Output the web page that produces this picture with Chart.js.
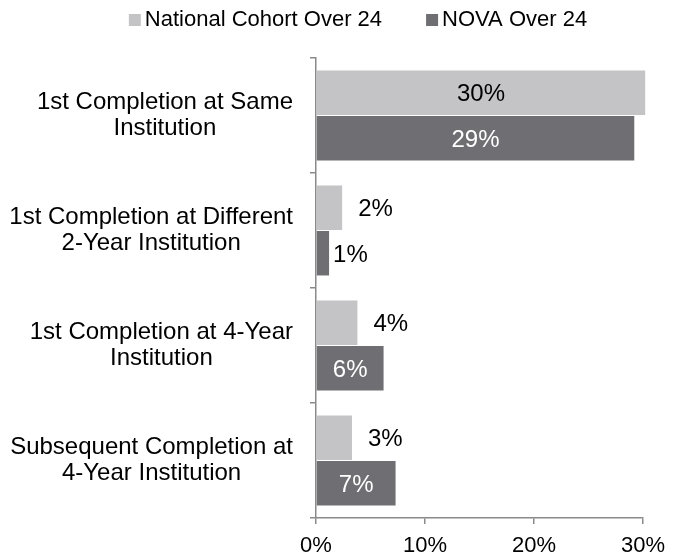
<!DOCTYPE html>
<html>
<head>
<meta charset="utf-8">
<script src="https://cdn.jsdelivr.net/npm/chart.js@4/dist/chart.umd.min.js"></script>
<style>
html,body{margin:0;padding:0;background:#fff;}
#wrap{width:682px;height:556px;}
</style>
</head>
<body>
<div id="wrap"><canvas id="c" width="682" height="556"></canvas></div>
<script>
const categories = [
  ["1st Completion at Same", "Institution"],
  ["1st Completion at Different", "2-Year Institution"],
  ["1st Completion at 4-Year", "Institution"],
  ["Subsequent Completion at", "4-Year Institution"]
];
const seriesNames = ["National Cohort Over 24", "NOVA Over 24"];
const nationalValues = [30.2, 2.4, 3.8, 3.3];
const novaValues = [29.2, 1.2, 6.2, 7.3];
const dataLabels = [["30%", "2%", "4%", "3%"], ["29%", "1%", "6%", "7%"]];
const xTicks = [0, 10, 20, 30];

const FONT = "'Liberation Sans', Arial, sans-serif";
const colors = ["#c4c4c6", "#6f6e73"];
const axisColor = "#8a8a8a";

const labelPlugin = {
  id: "labels",
  afterDatasetsDraw(chart) {
    const ctx = chart.ctx;
    ctx.save();
    ctx.font = "24px " + FONT;
    ctx.textBaseline = "middle";
    chart.data.datasets.forEach((ds, di) => {
      const meta = chart.getDatasetMeta(di);
      meta.data.forEach((bar, i) => {
        const v = ds.data[i];
        const txt = dataLabels[di][i];
        if (v >= 5) {
          ctx.textAlign = "center";
          ctx.fillStyle = di === 0 ? "#000" : "#fff";
          ctx.fillText(txt, (bar.x + bar.base) / 2, bar.y + 2);
        } else {
          ctx.textAlign = "left";
          ctx.fillStyle = "#000";
          ctx.fillText(txt, bar.x + (v < 2 ? 4 : 16), bar.y + 2);
        }
      });
    });
    ctx.restore();
  }
};

const yLabelPlugin = {
  id: "ylabels",
  afterDraw(chart) {
    const ctx = chart.ctx;
    const ys = chart.scales.y;
    ctx.save();
    ctx.font = "24px " + FONT;
    ctx.textBaseline = "middle";
    ctx.textAlign = "center";
    ctx.fillStyle = "#000";
    const right = chart.chartArea.left - 23;
    categories.forEach((lines, i) => {
      const maxW = Math.max(...lines.map(l => ctx.measureText(l).width));
      const cx = right - maxW / 2;
      const yc = ys.getPixelForValue(i);
      lines.forEach((l, j) => {
        ctx.fillText(l, cx, yc + (j - (lines.length - 1) / 2) * 26);
      });
    });
    ctx.restore();
  }
};

const legendPlugin = {
  id: "customLegend",
  afterDraw(chart) {
    const ctx = chart.ctx;
    ctx.save();
    ctx.font = "22px " + FONT;
    ctx.textBaseline = "middle";
    ctx.textAlign = "left";
    const box = 12, gapBox = 4, gapItem = 44;
    const widths = seriesNames.map(n => box + gapBox + ctx.measureText(n).width);
    const total = widths.reduce((a, b) => a + b, 0) + gapItem * (widths.length - 1);
    let x = chart.width / 2 + 17 - total / 2;
    const y = 20;
    seriesNames.forEach((n, i) => {
      ctx.fillStyle = colors[i];
      ctx.fillRect(x, y - box / 2, box, box);
      ctx.fillStyle = "#000";
      ctx.fillText(n, x + box + gapBox, y);
      x += widths[i] + gapItem;
    });
    ctx.restore();
  }
};

new Chart(document.getElementById("c"), {
  type: "bar",
  data: {
    labels: categories.map(c => c.join(" ")),
    datasets: [
      { label: seriesNames[0], data: nationalValues, backgroundColor: colors[0], categoryPercentage: 0.79, barPercentage: 0.98, clip: false },
      { label: seriesNames[1], data: novaValues, backgroundColor: colors[1], categoryPercentage: 0.79, barPercentage: 0.98, clip: false }
    ]
  },
  options: {
    indexAxis: "y",
    responsive: false,
    animation: false,
    devicePixelRatio: 1,
    layout: { padding: { top: 58, right: 39, left: 0, bottom: 0 } },
    plugins: { legend: { display: false }, tooltip: { enabled: false } },
    scales: {
      x: {
        min: 0, max: 30,
        afterBuildTicks(s) { s.ticks = xTicks.map(v => ({ value: v })); },
        afterFit(s) { s.height = 38; },
        grid: { drawOnChartArea: false, drawTicks: true, tickLength: 6, color: axisColor, lineWidth: 1.5 },
        border: { display: true, color: axisColor, width: 1.5 },
        ticks: { color: "#000", padding: 9, font: { size: 22, family: FONT }, callback: v => v + "%" }
      },
      y: {
        afterFit(s) { s.width = 316; },
        grid: { offset: true, drawOnChartArea: false, drawTicks: true, tickLength: 6, color: axisColor, lineWidth: 1.5 },
        border: { display: true, color: axisColor, width: 1.5 },
        ticks: { display: false }
      }
    }
  },
  plugins: [labelPlugin, yLabelPlugin, legendPlugin]
});
</script>
</body>
</html>
